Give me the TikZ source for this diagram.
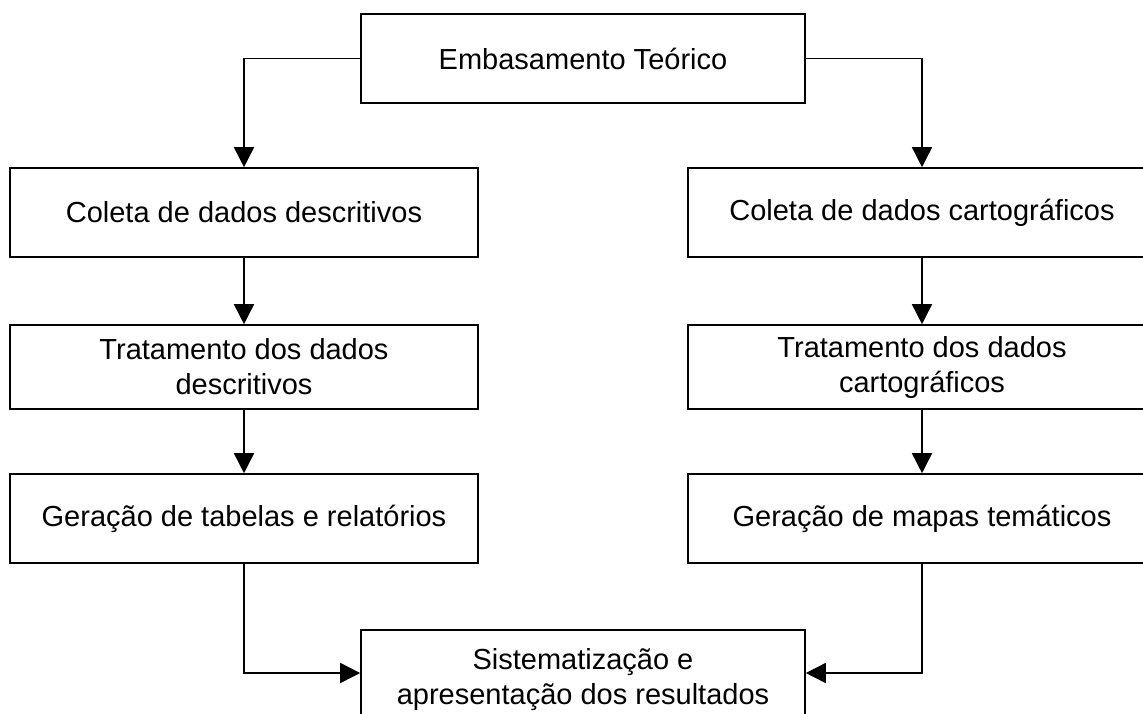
\documentclass[tikz,border=0pt]{standalone}
\usepackage{fontspec}
\setmainfont{Liberation Sans}
\usetikzlibrary{arrows.meta}

\begin{document}
\begin{tikzpicture}[x=1pt, y=-1pt,
	caixa/.style={draw, line width=1.6pt, minimum width=468pt, minimum height=89pt, inner sep=0pt, align=center, font=\fontsize{29}{35}\selectfont},
	seta/.style={line width=1.6pt, -{Triangle[length=20pt, width=20pt]}}]

	% Drawing the frame (the page cuts the right column and the last box)
	\clip (0,0) rectangle (1143,713);

	% Drawing the boxes
	\node [caixa, minimum width=444pt] (teorico) at (583,58.5) {Embasamento Teórico};
	\node [caixa] (coletadesc) at (244,212.5) {Coleta de dados descritivos};
	\node [caixa] (coletacart) at (922,212.5) {Coleta de dados cartográficos};
	\node [caixa, minimum height=84pt] (tratdesc) at (244,367) {Tratamento dos dados\\descritivos};
	\node [caixa, minimum height=84pt] (tratcart) at (922,367) {Tratamento dos dados\\cartográficos};
	\node [caixa] (geradesc) at (244,518.5) {Geração de tabelas e relatórios};
	\node [caixa] (geracart) at (922,518.5) {Geração de mapas temáticos};
	\node [caixa, minimum width=444pt, minimum height=100pt] (sist) at (583,680) {Sistematização e\\apresentação dos resultados};

	% Drawing the arrows
	\draw [seta] (teorico.west) -| (coletadesc.north);
	\draw [seta] (teorico.east) -| (coletacart.north);
	\draw [seta] (coletadesc) -- (tratdesc);
	\draw [seta] (coletacart) -- (tratcart);
	\draw [seta] (tratdesc) -- (geradesc);
	\draw [seta] (tratcart) -- (geracart);
	\draw [seta] (geradesc.south) |- ([yshift=7pt]sist.west);
	\draw [seta] (geracart.south) |- ([yshift=7pt]sist.east);

\end{tikzpicture}
\end{document}
